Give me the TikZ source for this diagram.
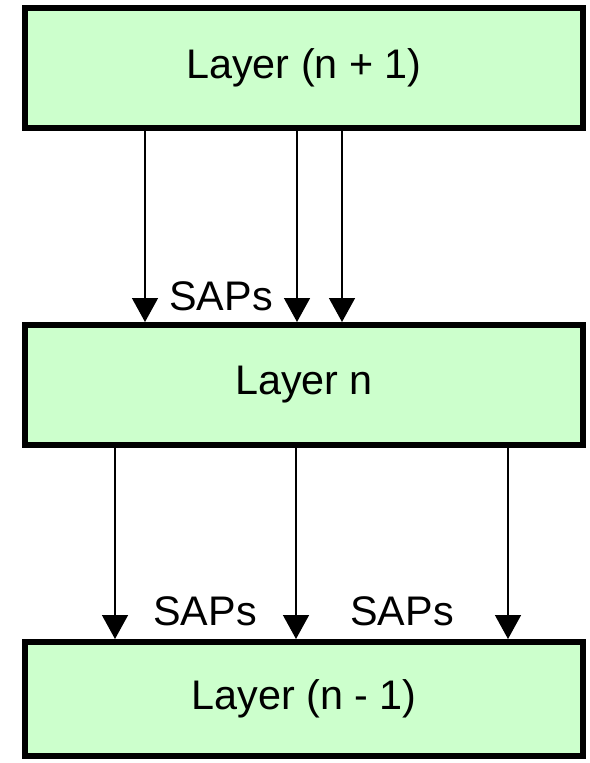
\documentclass[tikz,border=0pt]{standalone}
\usepackage{fontspec}
\setmainfont{Liberation Sans}
\usetikzlibrary{arrows.meta}

\definecolor{layergreen}{RGB}{204,255,204}
\tikzset{every picture/.style={line width=0.75pt}}
\tikzset{
	layerbox/.style={draw, line width=4.5pt, fill=layergreen, minimum width=418.5pt, minimum height=90pt, inner sep=0pt, font=\fontsize{31}{37}\selectfont},
	sapline/.style={line width=1.1pt, -{Triangle[width=19.5pt,length=18pt]}},
	saplabel/.style={anchor=base, inner sep=0pt, font=\fontsize{31}{37}\selectfont}
}

\begin{document}
\begin{tikzpicture}[x=0.75pt,y=0.75pt,yscale=-1]
	\useasboundingbox (0,0) rectangle (589,763);

	% Layer boxes
	\node[layerbox] (upper) at (304,68) {Layer (n + 1)};
	\node[layerbox] (middle) at (304,385) {Layer n};
	\node[layerbox, minimum height=85.5pt] (lower) at (304,699) {Layer (n - 1)};

	% x positions of the SAP lines
	\coordinate (ua) at (145,0);
	\coordinate (ub) at (297,0);
	\coordinate (uc) at (342,0);
	\coordinate (la) at (115,0);
	\coordinate (lb) at (296,0);
	\coordinate (lc) at (508,0);

	% upper -> middle
	\draw[sapline] (ua |- upper.south) -- (ua |- middle.north);
	\draw[sapline] (ub |- upper.south) -- (ub |- middle.north);
	\draw[sapline] (uc |- upper.south) -- (uc |- middle.north);
	% middle -> lower
	\draw[sapline] (la |- middle.south) -- (la |- lower.north);
	\draw[sapline] (lb |- middle.south) -- (lb |- lower.north);
	\draw[sapline] (lc |- middle.south) -- (lc |- lower.north);

	% SAP labels
	\node[saplabel] (sapu) at (221,310) {SAPs};
	\node[saplabel] (sapl) at (205,625) {SAPs};
	\node[saplabel] (sapr) at (402,625) {SAPs};

\end{tikzpicture}
\end{document}
